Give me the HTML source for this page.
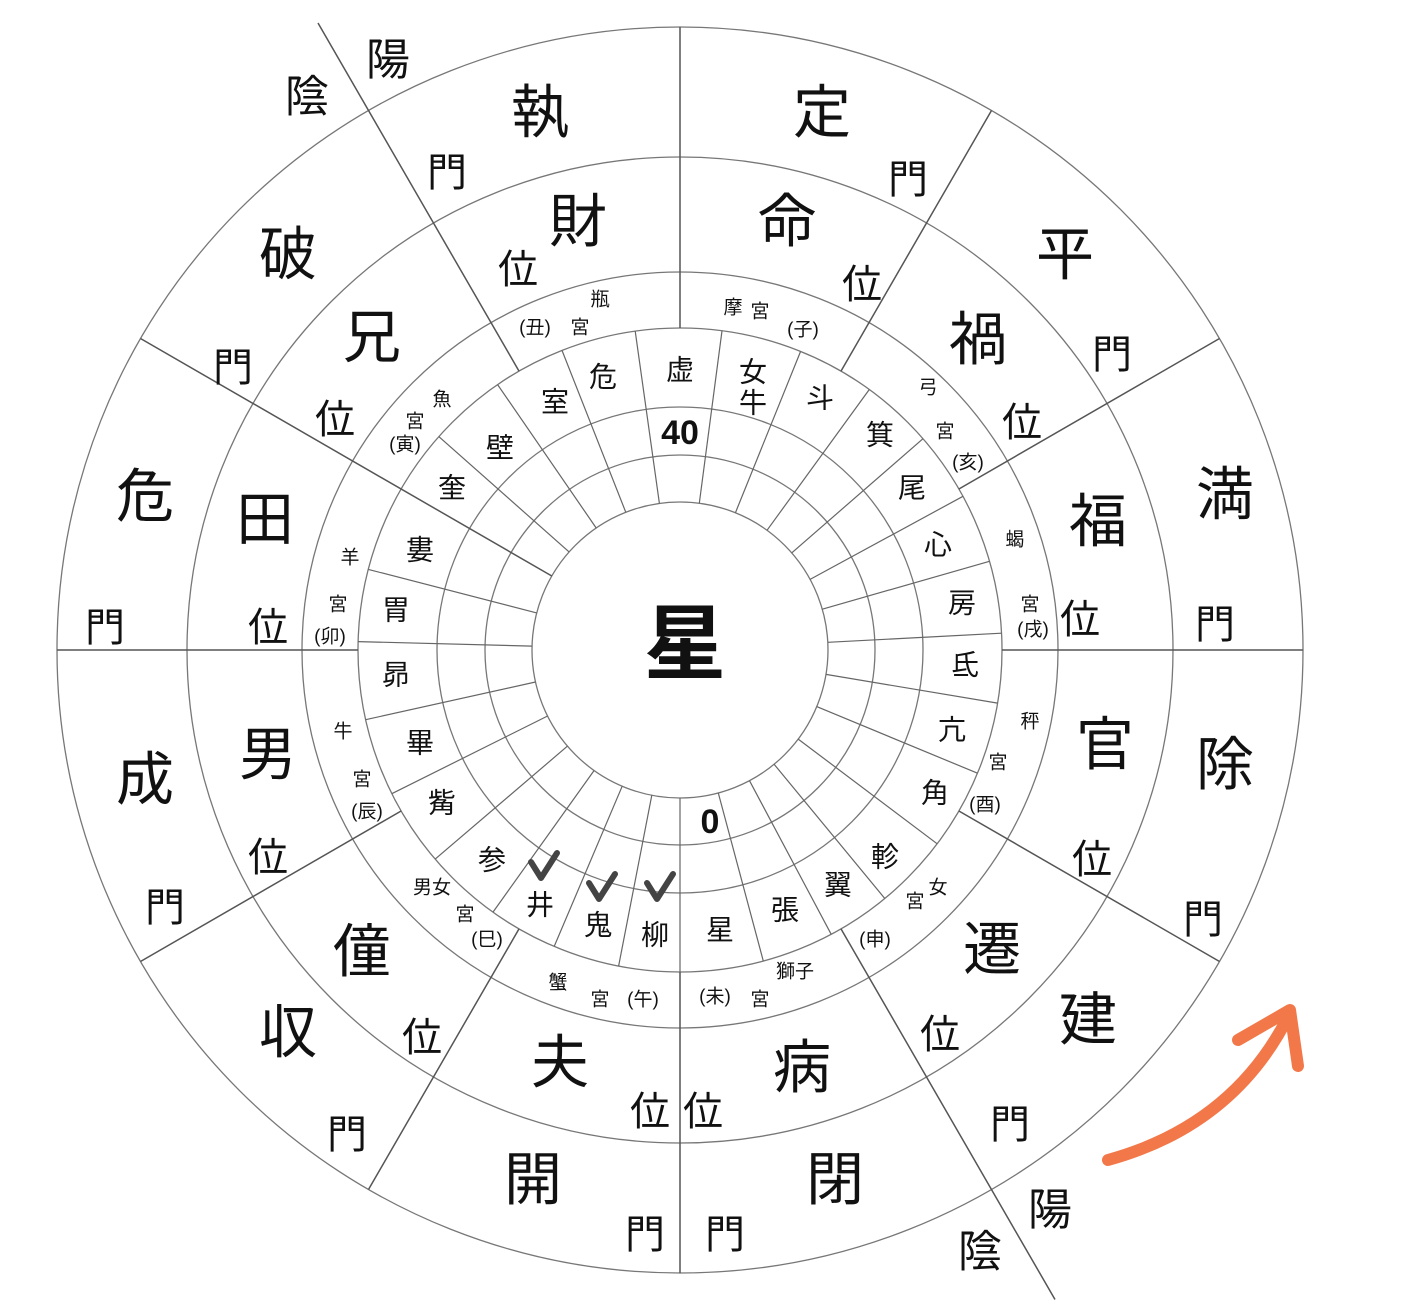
<!DOCTYPE html>
<html><head><meta charset="utf-8"><style>
html,body{margin:0;padding:0;background:#fff;}
svg{display:block;}
text{font-family:"Liberation Sans","Noto Sans CJK JP",sans-serif;fill:#111;text-anchor:middle;dominant-baseline:central;}
.b{font-size:58px;}
.m{font-size:40px;}
.s{font-size:28px;}
.p{font-size:19px;}
.y{font-size:44px;}
</style></head><body>
<svg width="1410" height="1307" viewBox="0 0 1410 1307" xmlns="http://www.w3.org/2000/svg">
<g fill="none" stroke="#777" stroke-width="1.3">
<circle cx="680" cy="650" r="623"/>
<circle cx="680" cy="650" r="493"/>
<circle cx="680" cy="650" r="378"/>
<circle cx="680" cy="650" r="322"/>
<circle cx="680" cy="650" r="243"/>
<circle cx="680" cy="650" r="195"/>
<circle cx="680" cy="650" r="148"/>
</g>
<g stroke="#666" stroke-width="1.2">
<line x1="659.4" y1="503.4" x2="635.2" y2="331.1"/>
<line x1="699.3" y1="503.3" x2="722.0" y2="330.8"/>
<line x1="735.4" y1="512.8" x2="800.6" y2="351.4"/>
<line x1="767.0" y1="530.3" x2="869.3" y2="389.5"/>
<line x1="791.7" y1="552.9" x2="923.0" y2="438.7"/>
<line x1="810.1" y1="579.4" x2="963.0" y2="496.3"/>
<line x1="822.3" y1="609.2" x2="989.5" y2="561.3"/>
<line x1="827.8" y1="642.3" x2="1001.6" y2="633.2"/>
<line x1="826.0" y1="674.4" x2="997.6" y2="703.1"/>
<line x1="816.7" y1="706.6" x2="977.5" y2="773.2"/>
<line x1="798.2" y1="739.1" x2="937.2" y2="843.8"/>
<line x1="774.1" y1="764.2" x2="884.8" y2="898.5"/>
<line x1="749.5" y1="780.7" x2="831.2" y2="934.3"/>
<line x1="718.3" y1="793.0" x2="763.3" y2="961.0"/>
<line x1="680" y1="798" x2="680" y2="972"/>
<line x1="651.8" y1="795.3" x2="618.6" y2="966.1"/>
<line x1="622.2" y1="786.2" x2="554.2" y2="946.4"/>
<line x1="594.1" y1="770.5" x2="493.0" y2="912.1"/>
<line x1="567.5" y1="746.1" x2="435.2" y2="859.1"/>
<line x1="547.6" y1="716.0" x2="391.8" y2="793.7"/>
<line x1="535.5" y1="682.0" x2="365.6" y2="719.7"/>
<line x1="532.0" y1="646.1" x2="358.1" y2="641.6"/>
<line x1="536.7" y1="612.9" x2="368.3" y2="569.4"/>
<line x1="569.1" y1="551.9" x2="438.8" y2="436.6"/>
<line x1="596.2" y1="528.0" x2="497.6" y2="384.6"/>
<line x1="625.8" y1="512.3" x2="562.0" y2="350.4"/>
</g>
<g stroke="#555" stroke-width="1.5">
<line x1="680" y1="328" x2="680" y2="27"/>
<line x1="841" y1="371.1" x2="991.5" y2="110.5"/>
<line x1="958.9" y1="489" x2="1219.5" y2="338.5"/>
<line x1="1002" y1="650" x2="1303" y2="650"/>
<line x1="958.9" y1="811" x2="1219.5" y2="961.5"/>
<line x1="841" y1="928.9" x2="1055" y2="1299.5"/>
<line x1="680" y1="972" x2="680" y2="1273"/>
<line x1="519" y1="928.9" x2="368.5" y2="1189.5"/>
<line x1="401.1" y1="811" x2="140.5" y2="961.5"/>
<line x1="358" y1="650" x2="57" y2="650"/>
<line x1="551.8" y1="576" x2="140.5" y2="338.5"/>
<line x1="519" y1="371.1" x2="318" y2="23"/>
</g>
<!-- outer ring -->
<text class="b" x="540" y="113">執</text><text class="b" x="822" y="113">定</text>
<text class="b" x="1065" y="255">平</text><text class="b" x="1225" y="495">満</text>
<text class="b" x="1225" y="765">除</text><text class="b" x="1088" y="1020">建</text>
<text class="b" x="835" y="1180">閉</text><text class="b" x="533" y="1180">開</text>
<text class="b" x="288" y="1033">収</text><text class="b" x="145" y="780">成</text>
<text class="b" x="145" y="497">危</text><text class="b" x="288" y="255">破</text>
<text class="m" x="447" y="173">門</text><text class="m" x="908" y="180">門</text>
<text class="m" x="1112" y="355">門</text><text class="m" x="1215" y="625">門</text>
<text class="m" x="1203" y="920">門</text><text class="m" x="1010" y="1125">門</text>
<text class="m" x="725" y="1235">門</text><text class="m" x="645" y="1235">門</text>
<text class="m" x="347" y="1135">門</text><text class="m" x="165" y="908">門</text>
<text class="m" x="105" y="628">門</text><text class="m" x="233" y="368">門</text>
<!-- 位 ring -->
<text class="b" x="578" y="222">財</text><text class="b" x="787" y="222">命</text>
<text class="b" x="978" y="340">禍</text><text class="b" x="1098" y="522">福</text>
<text class="b" x="1105" y="745">官</text><text class="b" x="992" y="950">遷</text>
<text class="b" x="802" y="1068">病</text><text class="b" x="560" y="1063">夫</text>
<text class="b" x="362" y="952">僮</text><text class="b" x="268" y="755">男</text>
<text class="b" x="265" y="520">田</text><text class="b" x="372" y="338">兄</text>
<text class="m" x="518" y="270">位</text><text class="m" x="862" y="285">位</text>
<text class="m" x="1022" y="423">位</text><text class="m" x="1080" y="620">位</text>
<text class="m" x="1092" y="860">位</text><text class="m" x="940" y="1035">位</text>
<text class="m" x="703" y="1112">位</text><text class="m" x="650" y="1112">位</text>
<text class="m" x="422" y="1038">位</text><text class="m" x="268" y="858">位</text>
<text class="m" x="268" y="628">位</text><text class="m" x="335" y="420">位</text>
<!-- yin yang -->
<text class="y" x="388" y="60">陽</text><text class="y" x="307" y="97">陰</text>
<text class="y" x="1050" y="1210">陽</text><text class="y" x="980" y="1252">陰</text>
<!-- palaces -->
<text class="p" x="600" y="300">瓶</text><text class="p" x="535" y="328">(丑)</text><text class="p" x="580" y="328">宮</text>
<text class="p" x="733" y="308">摩</text><text class="p" x="760" y="312">宮</text><text class="p" x="803" y="330">(子)</text>
<text class="p" x="928" y="388">弓</text><text class="p" x="945" y="432">宮</text><text class="p" x="968" y="463">(亥)</text>
<text class="p" x="1015" y="540">蝎</text><text class="p" x="1030" y="605">宮</text><text class="p" x="1033" y="630">(戌)</text>
<text class="p" x="1030" y="722">秤</text><text class="p" x="998" y="763">宮</text><text class="p" x="985" y="805">(酉)</text>
<text class="p" x="938" y="888">女</text><text class="p" x="915" y="902">宮</text><text class="p" x="875" y="940">(申)</text>
<text class="p" x="795" y="972">獅子</text><text class="p" x="715" y="997">(未)</text><text class="p" x="760" y="1000">宮</text>
<text class="p" x="558" y="983">蟹</text><text class="p" x="600" y="1000">宮</text><text class="p" x="643" y="1000">(午)</text>
<text class="p" x="432" y="888">男女</text><text class="p" x="465" y="915">宮</text><text class="p" x="487" y="940">(巳)</text>
<text class="p" x="343" y="732">牛</text><text class="p" x="362" y="780">宮</text><text class="p" x="367" y="812">(辰)</text>
<text class="p" x="350" y="558">羊</text><text class="p" x="338" y="605">宮</text><text class="p" x="330" y="637">(卯)</text>
<text class="p" x="442" y="400">魚</text><text class="p" x="415" y="422">宮</text><text class="p" x="405" y="445">(寅)</text>
<!-- mansions -->
<text class="s" x="680" y="370">虚</text>
<text class="s" x="753" y="372">女</text><text class="s" x="753" y="403">牛</text>
<text class="s" x="820" y="398">斗</text><text class="s" x="880" y="435">箕</text>
<text class="s" x="912" y="488">尾</text><text class="s" x="938" y="545">心</text>
<text class="s" x="962" y="603">房</text><text class="s" x="965" y="665">氐</text>
<text class="s" x="952" y="730">亢</text><text class="s" x="935" y="793">角</text>
<text class="s" x="885" y="857">軫</text><text class="s" x="838" y="885">翼</text>
<text class="s" x="785" y="910">張</text><text class="s" x="720" y="930">星</text>
<text class="s" x="655" y="935">柳</text><text class="s" x="598" y="925">鬼</text>
<text class="s" x="540" y="905">井</text><text class="s" x="492" y="860">参</text>
<text class="s" x="442" y="803">觜</text><text class="s" x="420" y="743">畢</text>
<text class="s" x="396" y="675">昴</text><text class="s" x="396" y="610">胃</text>
<text class="s" x="420" y="550">婁</text><text class="s" x="452" y="488">奎</text>
<text class="s" x="500" y="448">壁</text><text class="s" x="555" y="402">室</text>
<text class="s" x="603" y="377">危</text>
<text x="680" y="433" style="font-size:34px;font-weight:bold;">40</text>
<text x="710" y="822" style="font-size:34px;font-weight:bold;">0</text>
<g fill="none" stroke="#444" stroke-width="6" stroke-linecap="round" stroke-linejoin="round">
<path d="M531,862 L541,878 L557,853"/>
<path d="M589,883 L599,899 L615,874"/>
<path d="M647,883 L657,899 L673,874"/>
</g>
<text x="685" y="645" style="font-size:82px;font-weight:bold;">星</text>
<!-- arrow -->
<g fill="none" stroke="#f2784a" stroke-width="12" stroke-linecap="round" stroke-linejoin="round">
<path d="M1108,1160 Q1235,1125 1290,1013"/>
<path d="M1238,1040 L1290,1010 L1298,1066"/>
</g>
</svg>
</body></html>
